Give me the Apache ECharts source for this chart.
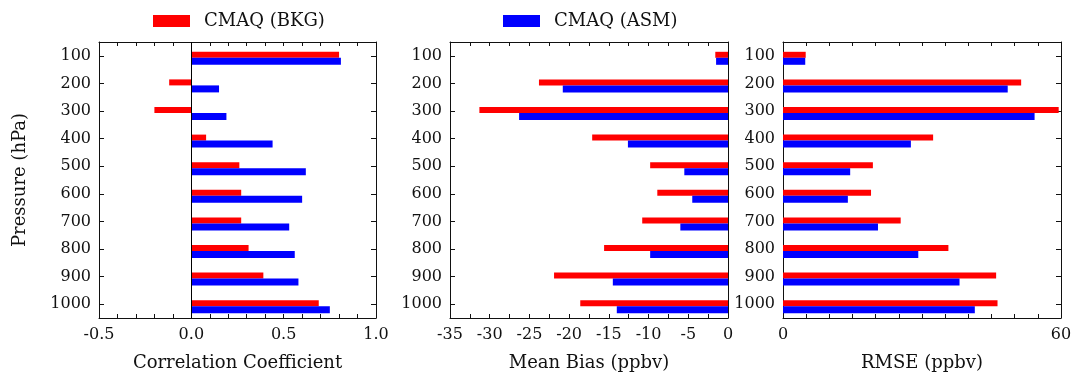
<!DOCTYPE html>
<html>
<head>
<meta charset="utf-8">
<script src="https://cdn.jsdelivr.net/npm/echarts@6/dist/echarts.min.js"></script>
<style>
html,body{margin:0;padding:0;background:#fff;}
#chart{width:1073px;height:372px;}
</style>
</head>
<body>
<div id="chart"></div>
<script>
// ---- data ----
var pressure = ['100', '200', '300', '400', '500', '600', '700', '800', '900', '1000'];
var seriesNames = ['CMAQ (BKG)', 'CMAQ (ASM)'];
var corrBkg = [0.80, -0.12, -0.20, 0.08, 0.26, 0.27, 0.27, 0.31, 0.39, 0.69];
var corrAsm = [0.81, 0.15, 0.19, 0.44, 0.62, 0.60, 0.53, 0.56, 0.58, 0.75];
var biasBkg = [-1.6, -23.8, -31.3, -17.1, -9.8, -8.9, -10.8, -15.6, -21.9, -18.6];
var biasAsm = [-1.5, -20.8, -26.3, -12.6, -5.5, -4.5, -6.0, -9.8, -14.5, -14.0];
var rmseBkg = [4.9, 51.4, 59.5, 32.4, 19.4, 19.0, 25.4, 35.7, 46.0, 46.3];
var rmseAsm = [4.8, 48.5, 54.3, 27.6, 14.5, 14.0, 20.5, 29.2, 38.1, 41.4];
var axisTitles = ['Correlation Coefficient', 'Mean Bias (ppbv)', 'RMSE (ppbv)'];
var yTitle = 'Pressure (hPa)';

// ---- style / layout ----
var FONT = 'DejaVu Serif';
var RED = '#ff0000', BLUE = '#0000ff', INK = '#111';
var grids = [
  {left: 99, top: 42, width: 277, height: 276},
  {left: 450, top: 42, width: 278, height: 276},
  {left: 783, top: 42, width: 278, height: 276}
];
var xRanges = [
  {min: -0.5, max: 1.0, interval: 0.5, minor: 5, fmt: function (v) { return v.toFixed(1); }},
  {min: -35, max: 0, interval: 5, minor: 2, fmt: function (v) { return String(v); }},
  {min: 0, max: 60, interval: 60, minor: 12, fmt: function (v) { return String(v); }}
];
var panelData = [[corrBkg, corrAsm], [biasBkg, biasAsm], [rmseBkg, rmseAsm]];

var xAxes = [], yAxes = [], series = [];
grids.forEach(function (g, i) {
  var r = xRanges[i];
  ['bottom', 'top'].forEach(function (pos) {
    xAxes.push({
      type: 'value', gridIndex: i, position: pos,
      min: r.min, max: r.max, interval: r.interval,
      name: pos === 'bottom' ? axisTitles[i] : '',
      nameLocation: 'middle', nameGap: 36,
      nameTextStyle: {fontFamily: FONT, fontSize: 18, color: INK},
      axisLine: {show: true, onZero: false, lineStyle: {color: INK, width: 1}},
      axisTick: {show: true, inside: true, length: 4, lineStyle: {color: INK}},
      minorTick: {show: true, splitNumber: r.minor, length: 4, lineStyle: {color: INK}},
      splitLine: {show: false}, minorSplitLine: {show: false},
      axisLabel: {show: pos === 'bottom', fontFamily: FONT, fontSize: 16, color: INK, margin: 9, formatter: r.fmt}
    });
  });
  ['left', 'right'].forEach(function (pos) {
    yAxes.push({
      type: 'category', gridIndex: i, position: pos, inverse: true,
      data: pressure,
      name: (pos === 'left' && i === 0) ? yTitle : '',
      nameLocation: 'middle', nameGap: 70, nameRotate: 90,
      nameTextStyle: {fontFamily: FONT, fontSize: 18, color: INK},
      axisLine: {show: true, onZero: false, lineStyle: {color: INK, width: 1}},
      axisTick: {show: true, inside: true, length: 5, alignWithLabel: true, lineStyle: {color: INK}},
      axisLabel: {show: pos === 'left', fontFamily: FONT, fontSize: 16, color: INK, margin: 8},
      splitLine: {show: false}
    });
  });
  var xi = i * 2, yi = i * 2;
  // spacer keeps the red bar centred on the pressure tick like the original
  series.push({type: 'bar', name: 'spacer', xAxisIndex: xi, yAxisIndex: yi, data: [],
    barWidth: 5, barGap: '0%', silent: true, itemStyle: {color: 'rgba(0,0,0,0)'}});
  series.push({type: 'bar', name: seriesNames[0], xAxisIndex: xi, yAxisIndex: yi,
    data: panelData[i][0], barWidth: 6, barGap: '0%', itemStyle: {color: RED},
    markLine: i === 0 ? {silent: true, symbol: 'none', label: {show: false},
      lineStyle: {color: '#000', type: 'solid', width: 1}, data: [{xAxis: 0}]} : undefined});
  series.push({type: 'bar', name: seriesNames[1], xAxisIndex: xi, yAxisIndex: yi,
    data: panelData[i][1], barWidth: 7, barGap: '0%', itemStyle: {color: BLUE}});
});

var legendCommon = {
  icon: 'rect', itemWidth: 37, itemHeight: 12, top: 7, orient: 'horizontal',
  textStyle: {fontFamily: FONT, fontSize: 18, color: INK, padding: [0, 0, 0, 9]},
  selectedMode: false
};
var chart = echarts.init(document.getElementById('chart'), null, {renderer: 'canvas'});
chart.setOption({
  animation: false,
  backgroundColor: '#fff',
  grid: grids.map(function (g) { return Object.assign({containLabel: false, outerBoundsMode: 'none'}, g); }),
  legend: [
    Object.assign({left: 148, data: [seriesNames[0]]}, legendCommon),
    Object.assign({left: 498, data: [seriesNames[1]]}, legendCommon)
  ],
  xAxis: xAxes,
  yAxis: yAxes,
  series: series
});
</script>
</body>
</html>
